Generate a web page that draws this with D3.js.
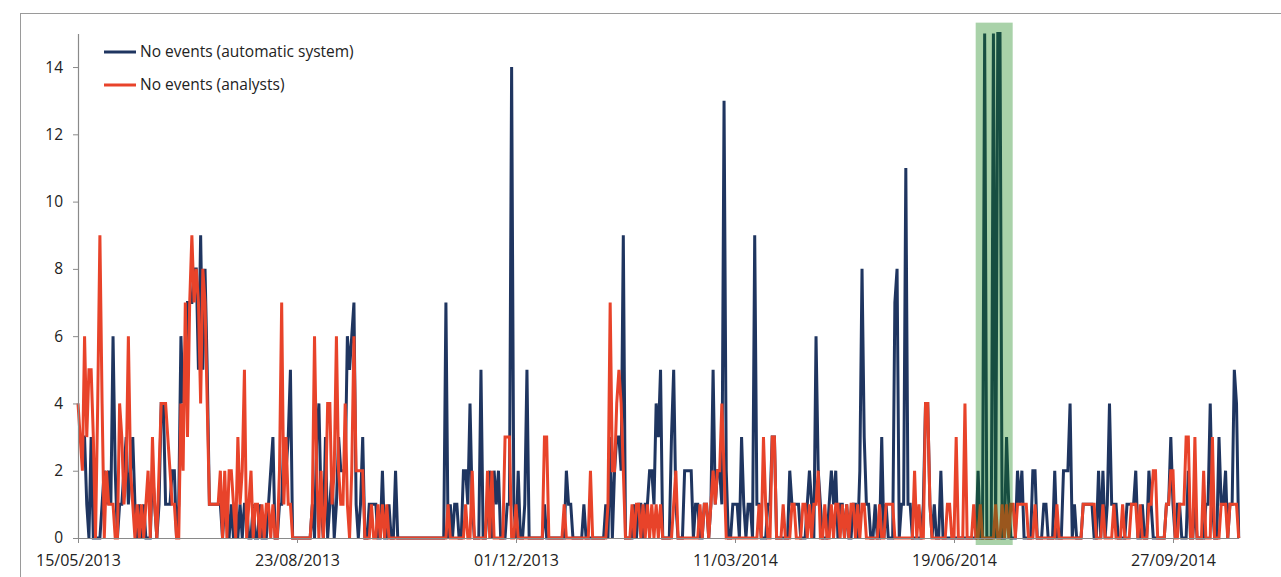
<!DOCTYPE html>
<html>
<head>
<meta charset="utf-8">
<script src="https://cdn.jsdelivr.net/npm/d3@7"></script>
<style>
  html, body { margin: 0; padding: 0; background: #ffffff; }
  svg { display: block; }
  text { font-family: "Open Sans", "DejaVu Sans", sans-serif; fill: #222; }
</style>
</head>
<body>
<svg id="chart" width="1281" height="577"></svg>
<script>
// ---------- DATA (daily values, starting 15/05/2013) ----------
const startDate = "2013-05-15";
const seriesNames = ["No events (automatic system)", "No events (analysts)"];
const autoSystem = [
  3,3,3,3,1,0,3,0,0,0,  0,1,2,1,2,1,6,2,0,1,  1,2,3,1,2,3,1,0,1,0,  1,0,0,0,2,1,0,1,4,4,
  1,1,1,2,2,0,1,6,4,5,  7,7,7,8,8,5,9,5,8,5,  1,1,1,1,1,1,0,1,1,0,  1,0,1,0,1,0,1,1,0,0,
  1,0,0,1,0,0,0,1,2,3,  0,0,1,1,3,2,3,5,0,0,  0,0,0,0,0,0,0,1,0,3,  4,1,0,3,0,1,2,0,1,3,
  2,2,2,6,5,6,7,1,0,1,  3,0,0,1,1,1,1,0,0,2,  0,0,1,0,0,2,0,0,0,0,  0,0,0,0,0,0,0,0,0,0,
  0,0,0,0,0,0,0,0,7,0,  1,0,1,1,0,0,2,2,1,4,  1,0,0,0,5,0,0,1,2,0,  2,1,2,0,0,0,1,1,14,1,
  0,2,0,0,1,5,0,0,0,0,  0,0,0,1,0,0,0,0,0,0,  0,0,0,2,1,1,0,0,0,0,  0,1,0,0,0,0,0,0,0,0,
  0,1,0,3,0,2,3,3,2,9,  0,0,0,0,1,0,1,1,0,1,  1,2,2,1,4,3,5,0,0,0,  0,3,5,1,0,0,0,2,2,2,
  2,0,1,1,0,0,1,1,0,1,  5,1,2,2,1,13,2,0,0,1, 1,1,0,3,1,0,1,1,0,9,  1,1,0,0,0,1,1,3,3,0,
  0,0,0,0,0,2,1,1,1,1,  0,0,0,1,2,1,0,6,2,1,  0,0,0,1,2,1,2,0,1,1,  0,1,0,0,1,1,0,2,8,3,
  1,1,0,0,1,0,0,3,0,1,  0,0,0,7,8,0,1,1,11,1, 1,0,0,0,0,0,1,4,4,1,  0,1,0,0,2,0,0,0,0,0,
  0,0,0,0,0,0,0,0,0,0,  0,2,0,0,15,0,0,0,15,0, 15,15,0,0,3,1,0,0,0,2, 1,2,0,0,0,0,2,2,0,0,
  0,1,1,0,0,0,2,0,0,0,  2,2,2,4,0,1,0,0,0,1,  1,1,1,1,0,0,2,0,2,0,  1,4,1,1,1,0,0,0,0,1,
  1,1,1,2,0,0,1,0,0,2,  1,0,0,0,0,0,0,1,1,3,  1,0,1,1,0,0,0,2,0,0,  1,0,0,0,0,1,1,4,1,0,
  0,3,1,1,2,0,1,1,5,4,  0
];
const analysts = [
  4,3,2,6,3,5,5,3,0,4,  9,4,0,2,1,1,1,0,0,4,  3,1,2,6,2,1,0,1,0,1,  0,1,2,0,3,1,0,2,4,4,
  4,3,2,1,1,0,0,4,2,7,  3,7,9,7,8,7,4,8,7,4,  1,1,1,1,1,2,0,2,0,2,  2,1,0,3,1,2,5,0,1,2,
  0,1,1,0,1,0,1,1,0,1,  0,0,2,7,1,3,1,1,0,0,  0,0,0,0,0,0,0,1,6,2,  0,2,0,1,4,4,1,2,6,2,
  1,1,4,1,0,2,6,2,2,2,  2,0,0,0,1,0,0,1,0,1,  0,1,0,0,0,0,0,0,0,0,  0,0,0,0,0,0,0,0,0,0,
  0,0,0,0,0,0,0,0,0,1,  0,0,0,0,0,0,0,1,0,0,  2,0,0,0,0,0,0,2,0,2,  0,0,0,0,0,3,3,3,0,0,
  1,0,0,0,0,0,0,0,0,0,  0,0,0,3,3,0,0,0,0,0,  0,0,1,0,0,0,0,0,0,0,  0,0,0,0,2,0,0,0,0,0,
  0,0,1,7,2,2,4,5,4,2,  0,0,0,1,0,1,1,0,1,0,  1,0,1,0,1,0,1,0,0,0,  0,0,1,2,0,0,0,0,0,0,
  0,0,0,0,1,0,1,1,0,1,  2,1,2,2,4,2,0,0,0,0,  0,0,0,0,0,0,0,0,0,0,  0,1,0,3,1,0,0,3,3,0,
  0,0,1,0,0,0,1,1,0,0,  0,1,1,0,1,0,1,1,2,0,  0,1,0,0,1,0,1,1,0,1,  0,1,0,1,1,0,1,0,1,1,
  0,0,0,0,0,0,1,0,0,1,  1,1,1,0,0,0,0,0,0,0,  0,0,2,0,1,0,0,4,4,1,  0,0,0,0,0,0,0,1,1,0,
  0,3,0,0,0,4,0,0,0,1,  0,0,1,0,0,0,0,0,0,1,  0,0,1,0,1,0,1,1,0,1,  1,1,1,1,0,0,0,1,0,0,
  0,0,0,0,0,0,0,1,0,0,  0,0,0,0,0,0,0,0,0,1,  1,1,1,1,1,0,0,0,1,0,  0,0,0,1,0,0,0,1,0,0,
  0,1,1,1,0,1,0,0,0,1,  1,2,2,0,0,0,0,1,1,2,  2,0,0,1,1,1,3,3,0,0,  3,0,0,0,2,0,0,0,3,0,
  0,0,1,1,1,0,1,1,1,1,  0
];
const xTickLabels = ["15/05/2013", "23/08/2013", "01/12/2013", "11/03/2014", "19/06/2014", "27/09/2014"];
const yTicks = [0, 2, 4, 6, 8, 10, 12, 14];
const highlightDays = [409.9, 426.8];   // highlighted period (day offsets)
const highlightTop = 15.32;
const colors = ["#1f3560", "#e8432a"];

// ---------- LAYOUT ----------
const dayMs = 864e5;
const t0 = new Date(startDate + "T00:00:00Z");
const dateOf = i => new Date(t0.getTime() + i * dayMs);
const parseLabel = s => { const [d, m, y] = s.split("/"); return new Date(Date.UTC(+y, +m - 1, +d)); };
const nDays = autoSystem.length - 1;

const x = d3.scaleUtc()
  .domain([t0, dateOf(nDays)])
  .range([78, 78 + nDays * 2.19]);
const y = d3.scaleLinear().domain([0, 15]).range([538, 538 - 15 * 33.64]);

const svg = d3.select("#chart");

// frame
svg.append("rect").attr("x", 20.5).attr("y", 13.5).attr("width", 1300).attr("height", 700)
  .attr("fill", "none").attr("stroke", "#9a9a9a").attr("stroke-width", 1);

// series lines
const line = d3.line().x((d, i) => x(dateOf(i))).y(d => y(d)).curve(d3.curveLinear);
[autoSystem, analysts].forEach((s, k) => {
  svg.append("path").datum(s)
    .attr("d", line)
    .attr("fill", "none")
    .attr("stroke", colors[k])
    .attr("stroke-width", 3)
    .attr("stroke-linejoin", "miter")
    .attr("stroke-miterlimit", 10);
});

// highlight overlay
svg.append("rect")
  .attr("x", x(dateOf(highlightDays[0])))
  .attr("width", x(dateOf(highlightDays[1])) - x(dateOf(highlightDays[0])))
  .attr("y", y(highlightTop))
  .attr("height", y(0) - y(highlightTop) + 7)
  .attr("fill", "rgb(10,125,10)")
  .attr("fill-opacity", 0.35);

// axes
const xAxis = d3.axisBottom(x)
  .tickValues(xTickLabels.map(parseLabel))
  .tickFormat((d, i) => xTickLabels[i])
  .tickSize(5).tickSizeOuter(0);
const gx = svg.append("g").attr("transform", `translate(0,${y(0)})`).call(xAxis);
gx.select(".domain").attr("stroke", "#8a8a8a").attr("stroke-width", 1.2);
gx.selectAll(".tick line").attr("stroke", "#8a8a8a");
gx.selectAll(".tick text").attr("font-size", 16).attr("y", 12).attr("dy", "1.0em")
  .style("font-family", '"Open Sans", sans-serif').attr("fill", "#222");

const yAxis = d3.axisLeft(y).tickValues(yTicks).tickSize(5).tickSizeOuter(0);
const gy = svg.append("g").attr("transform", `translate(${x(t0)},0)`).call(yAxis);
gy.select(".domain").attr("stroke", "#8a8a8a").attr("stroke-width", 1.2);
gy.selectAll(".tick line").attr("stroke", "#8a8a8a");
gy.selectAll(".tick text").attr("font-size", 15.5).attr("x", -15)
  .style("font-family", '"Open Sans", sans-serif').attr("fill", "#222");

// legend
const legend = svg.append("g");
seriesNames.forEach((n, k) => {
  const ly = 52 + k * 33;
  legend.append("line").attr("x1", 104).attr("x2", 136).attr("y1", ly).attr("y2", ly)
    .attr("stroke", colors[k]).attr("stroke-width", 3);
  legend.append("text").attr("x", 140).attr("y", ly).attr("dy", "0.35em")
    .attr("font-size", 15.5).text(n);
});
</script>
</body>
</html>
